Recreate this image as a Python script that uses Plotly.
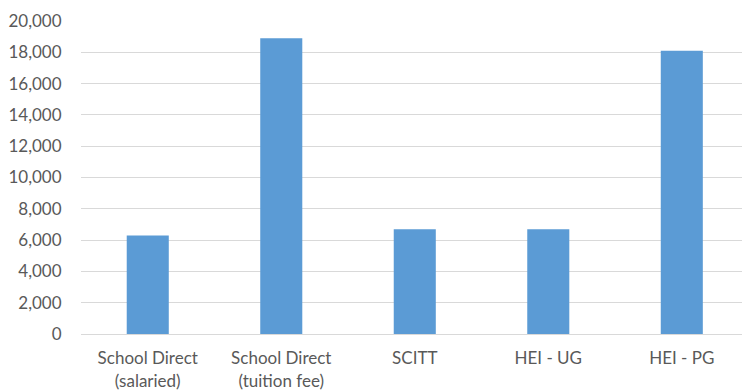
import plotly.graph_objects as go

categories = ["School Direct<br>(salaried)", "School Direct<br>(tuition fee)", "SCITT", "HEI - UG", "HEI - PG"]
values = [6300, 18900, 6700, 6700, 18100]
y_ticks = [0, 2000, 4000, 6000, 8000, 10000, 12000, 14000, 16000, 18000, 20000]

fig = go.Figure(go.Bar(
    x=categories, y=values,
    marker=dict(color="#5b9bd5", line=dict(width=0)),
))
fig.update_layout(
    width=742, height=390,
    margin=dict(l=81, r=0, t=21, b=56),
    paper_bgcolor="white", plot_bgcolor="white",
    bargap=0.685,
    showlegend=False,
    font=dict(family="Lato, Open Sans, sans-serif", size=17, color="#595959"),
)
fig.update_xaxes(
    range=[-0.5, 4.451], automargin=False,
    showgrid=False, showline=False, zeroline=False,
    ticks="outside", ticklen=9, tickcolor="rgba(0,0,0,0)",
    tickfont=dict(size=17, color="#595959"),
)
fig.update_yaxes(
    range=[0, 20000], automargin=False,
    tickvals=y_ticks, tickformat=",d",
    showgrid=True, gridcolor="#d9d9d9", gridwidth=1,
    zeroline=True, zerolinecolor="#d9d9d9", zerolinewidth=1,
    showline=False,
    ticks="outside", ticklen=15, tickcolor="rgba(0,0,0,0)",
    tickfont=dict(size=17, color="#595959"),
)
fig.write_html("out.html")
